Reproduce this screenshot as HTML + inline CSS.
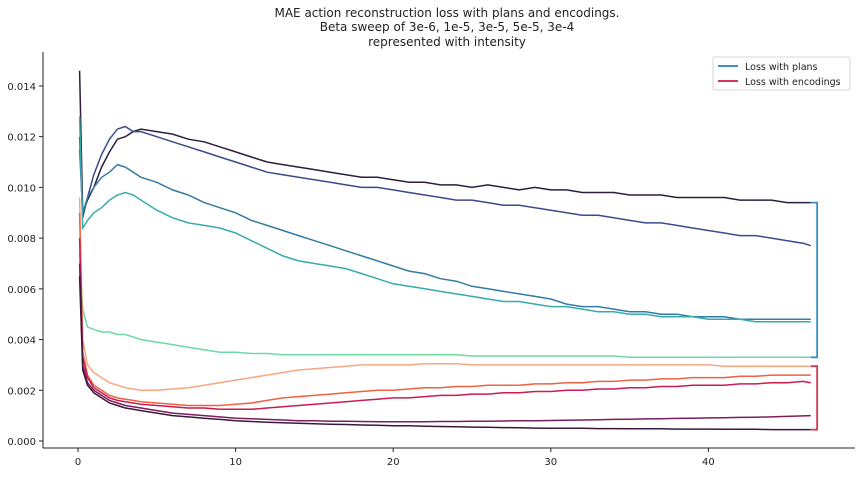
<!DOCTYPE html>
<html><head><meta charset="utf-8"><style>
body{margin:0;background:#fff;font-family:"Liberation Sans","DejaVu Sans",sans-serif}
svg text{font-family:"DejaVu Sans","Liberation Sans",sans-serif;fill:#222}
</style></head><body>
<svg id="chart" width="861" height="472" viewBox="0 0 861 472" xmlns="http://www.w3.org/2000/svg">
<g font-size="12" text-anchor="middle">
<text x="447" y="17">MAE action reconstruction loss with plans and encodings.</text>
<text x="447" y="31">Beta sweep of  3e-6, 1e-5, 3e-5, 5e-5, 3e-4</text>
<text x="447" y="46">represented with intensity</text>
</g>
<g id="series"></g>
<g id="axes"></g>
<g>
<rect x="713" y="57" width="137" height="33" rx="2" fill="#fff" stroke="#ccc" stroke-width="0.8"/>
<line x1="718" y1="66" x2="738" y2="66" stroke="#3b8fc4" stroke-width="2"/>
<text x="745" y="70" font-size="9.5">Loss with plans</text>
<line x1="718" y1="81" x2="738" y2="81" stroke="#d3355e" stroke-width="2"/>
<text x="745" y="85" font-size="9.5">Loss with encodings</text>
</g>
</svg>
<script>
const epochs=[0.1,0.3,0.6,1,1.5,2,2.5,3,3.5,4,5,6,7,8,9,10,11,12,13,14,15,16,17,18,19,20,21,22,23,24,25,26,27,28,29,30,31,32,33,34,35,36,37,38,39,40,41,42,43,44,45,46,46.5];
const planBeta1=[14.6,9.0,9.5,10.0,10.8,11.4,11.9,12.0,12.2,12.3,12.2,12.1,11.9,11.8,11.6,11.4,11.2,11.0,10.9,10.8,10.7,10.6,10.5,10.4,10.4,10.3,10.2,10.2,10.1,10.1,10.0,10.1,10.0,9.9,10.0,9.9,9.9,9.8,9.8,9.8,9.7,9.7,9.7,9.6,9.6,9.6,9.6,9.5,9.5,9.5,9.4,9.4,9.4];
const planBeta2=[12.0,8.8,9.6,10.5,11.3,11.9,12.3,12.4,12.2,12.2,12.0,11.8,11.6,11.4,11.2,11.0,10.8,10.6,10.5,10.4,10.3,10.2,10.1,10.0,10.0,9.9,9.8,9.7,9.6,9.5,9.5,9.4,9.3,9.3,9.2,9.1,9.0,8.9,8.9,8.8,8.7,8.6,8.6,8.5,8.4,8.3,8.2,8.1,8.1,8.0,7.9,7.8,7.7];
const planBeta3=[11.5,9.0,9.6,10.0,10.4,10.6,10.9,10.8,10.6,10.4,10.2,9.9,9.7,9.4,9.2,9.0,8.7,8.5,8.3,8.1,7.9,7.7,7.5,7.3,7.1,6.9,6.7,6.6,6.4,6.3,6.1,6.0,5.9,5.8,5.7,5.6,5.4,5.3,5.3,5.2,5.1,5.1,5.0,5.0,4.9,4.9,4.9,4.8,4.8,4.8,4.8,4.8,4.8];
const planBeta4=[12.8,8.4,8.7,9.0,9.2,9.5,9.7,9.8,9.7,9.5,9.1,8.8,8.6,8.5,8.4,8.2,7.9,7.6,7.3,7.1,7.0,6.9,6.8,6.6,6.4,6.2,6.1,6.0,5.9,5.8,5.7,5.6,5.5,5.5,5.4,5.3,5.3,5.2,5.1,5.1,5.0,5.0,4.9,4.9,4.9,4.8,4.8,4.8,4.7,4.7,4.7,4.7,4.7];
const planBeta5=[7.4,5.2,4.5,4.4,4.3,4.3,4.2,4.2,4.1,4.0,3.9,3.8,3.7,3.6,3.5,3.5,3.45,3.45,3.4,3.4,3.4,3.4,3.4,3.4,3.4,3.4,3.4,3.4,3.4,3.4,3.35,3.35,3.35,3.35,3.35,3.35,3.35,3.35,3.35,3.35,3.3,3.3,3.3,3.3,3.3,3.3,3.3,3.3,3.3,3.3,3.3,3.3,3.3];
const encBeta1=[9.6,4.0,3.0,2.7,2.5,2.3,2.2,2.1,2.05,2.0,2.0,2.05,2.1,2.2,2.3,2.4,2.5,2.6,2.7,2.8,2.85,2.9,2.95,3.0,3.0,3.0,3.0,3.05,3.05,3.05,3.0,3.0,3.0,3.0,3.0,3.0,3.0,3.0,3.0,3.0,3.0,3.0,3.0,3.0,3.0,3.0,2.95,2.95,2.95,2.95,2.95,2.95,2.95];
const encBeta2=[9.0,3.5,2.6,2.2,2.0,1.8,1.7,1.65,1.6,1.55,1.5,1.45,1.4,1.4,1.4,1.45,1.5,1.6,1.7,1.75,1.8,1.85,1.9,1.95,2.0,2.0,2.05,2.1,2.1,2.15,2.15,2.2,2.2,2.2,2.25,2.25,2.3,2.3,2.35,2.35,2.4,2.4,2.45,2.45,2.5,2.5,2.5,2.55,2.55,2.6,2.6,2.6,2.6];
const encBeta3=[8.0,3.3,2.5,2.1,1.9,1.7,1.6,1.55,1.5,1.45,1.4,1.35,1.3,1.3,1.25,1.25,1.25,1.3,1.35,1.4,1.45,1.5,1.55,1.6,1.65,1.7,1.7,1.75,1.8,1.8,1.85,1.85,1.9,1.9,1.95,1.95,2.0,2.0,2.05,2.05,2.1,2.1,2.15,2.15,2.2,2.2,2.2,2.25,2.25,2.3,2.3,2.35,2.3];
const encBeta4=[7.0,3.0,2.3,2.0,1.8,1.6,1.5,1.4,1.35,1.3,1.2,1.1,1.05,1.0,0.95,0.9,0.88,0.85,0.83,0.8,0.8,0.78,0.78,0.77,0.76,0.76,0.76,0.76,0.77,0.77,0.78,0.78,0.79,0.8,0.8,0.81,0.82,0.83,0.84,0.85,0.86,0.87,0.88,0.89,0.9,0.91,0.92,0.93,0.94,0.95,0.97,0.99,1.0];
const encBeta5=[6.5,2.8,2.2,1.9,1.7,1.5,1.4,1.3,1.25,1.2,1.1,1.0,0.95,0.9,0.85,0.8,0.77,0.74,0.72,0.7,0.68,0.66,0.65,0.63,0.62,0.6,0.6,0.58,0.57,0.56,0.55,0.54,0.53,0.52,0.51,0.5,0.5,0.5,0.49,0.49,0.48,0.48,0.48,0.47,0.47,0.47,0.46,0.46,0.46,0.45,0.45,0.45,0.45];
const xTicks=[0,10,20,30,40];
const yTicks=[0,2,4,6,8,10,12,14];
const yTickLabels=["0.000","0.002","0.004","0.006","0.008","0.010","0.012","0.014"];

const NS="http://www.w3.org/2000/svg";
const X=v=>78+v*15.76, Y=v=>441-v*25.36;
const sg=document.getElementById('series'), ag=document.getElementById('axes');
function mk(t,a,p){const e=document.createElementNS(NS,t);for(const k in a)e.setAttribute(k,a[k]);p.appendChild(e);return e;}
const plans=[[planBeta1,'#2d1e3e'],[planBeta2,'#3b4a8c'],[planBeta3,'#357ba3'],[planBeta4,'#38aaac'],[planBeta5,'#6fd8a8']];
const encs=[[encBeta1,'#f9a67f'],[encBeta2,'#f06043'],[encBeta3,'#cb1b4f'],[encBeta4,'#7d1d5b'],[encBeta5,'#3a1a3c']];
function line(arr,col,name){const n=Math.min(arr.length,epochs.length);let d='';for(let i=0;i<n;i++)d+=(i?'L':'M')+X(epochs[i]).toFixed(1)+','+Y(arr[i]).toFixed(1);
const p=mk('path',{d:d,fill:'none',stroke:col,'stroke-width':1.5},sg);

return n;}
plans.forEach((s,i)=>line(s[0],s[1],'plan-line-beta-'+(i+1)));
encs.forEach((s,i)=>line(s[0],s[1],'encoding-line-beta-'+(i+1)));
function bracket(top,bot,col,name){const xe=X(epochs[epochs.length-1]),xb=X(46.9);
const p=mk('path',{d:`M${xe},${Y(top[top.length-1])}H${xb}V${Y(bot[bot.length-1])}H${xe}`,fill:'none',stroke:col,'stroke-width':1.8},sg);

}
bracket(planBeta1,planBeta5,'#3b8fc4','plans-bracket');
bracket(encBeta1,encBeta5,'#d3355e','encodings-bracket');
const ya=mk('line',{x1:43,y1:52,x2:43,y2:448,stroke:'#222','stroke-width':1},ag);


const xa=mk('line',{x1:43,y1:448,x2:855,y2:448,stroke:'#222','stroke-width':1},ag);


xTicks.forEach(t=>{mk('line',{x1:X(t),y1:448,x2:X(t),y2:452,stroke:'#222'},ag);
const tx=mk('text',{x:X(t),y:465,'font-size':10,'text-anchor':'middle'},ag);tx.textContent=t;

});
yTicks.forEach((t,i)=>{mk('line',{x1:39,y1:Y(t),x2:43,y2:Y(t),stroke:'#222'},ag);
const tx=mk('text',{x:36,y:Y(t)+4,'font-size':10,'text-anchor':'end'},ag);tx.textContent=yTickLabels[i];

});
</script>
</body></html>
